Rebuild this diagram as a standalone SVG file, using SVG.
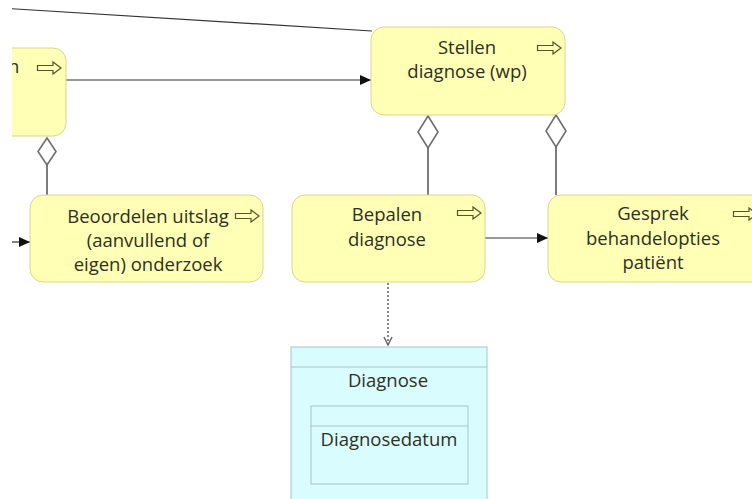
<svg xmlns="http://www.w3.org/2000/svg" width="752" height="499" viewBox="0 0 752 499">
  <defs>
    <style>
      .proc { fill: #ffffb5; stroke: #d8d88c; stroke-width: 1; }
      .data { fill: #d9fdff; stroke: #a8c4c6; stroke-width: 1; }
      .lbl { font-family: "Open Sans", "Noto Sans", sans-serif; font-size: 18.5px; fill: #2f2f22; text-anchor: middle; }
      .icon { fill: none; stroke: #55552a; stroke-width: 1.2; stroke-linejoin: miter; }
      .flow { fill: none; stroke: #333; stroke-width: 1.2; }
      .comp { fill: none; stroke: #7c7c7c; stroke-width: 2; }
      .diam { fill: #fff; stroke: #6e6e6e; stroke-width: 1.6; }
      .acc { fill: none; stroke: #6a6a6a; stroke-width: 1.6; stroke-dasharray: 2 2; }
    </style>
    <clipPath id="view">
      <rect x="12" y="0" width="740" height="499"/>
    </clipPath>
    <marker id="tri" viewBox="0 0 10 10" refX="10" refY="5" markerWidth="15" markerHeight="11" markerUnits="userSpaceOnUse" orient="auto">
      <path d="M0,0.5 L10,5 L0,9.5 Z" fill="#111"/>
    </marker>
    <marker id="vee" viewBox="0 0 10 10" refX="9" refY="5" markerWidth="10" markerHeight="10" markerUnits="userSpaceOnUse" orient="auto">
      <path d="M1,1 L9,5 L1,9" fill="none" stroke="#666" stroke-width="1.5"/>
    </marker>
    <!-- process arrow icon, origin at top-left -->
    <path id="procIcon" class="icon" d="M0.5,3.5 H16 V0 L24,6 L16,12 V8.5 H0.5 Z"/>
  </defs>

  <g clip-path="url(#view)">
    <!-- connectors -->
    <g id="connectors">
      <line class="flow" x1="0" y1="8" x2="372" y2="31"/>
      <line class="flow" x1="66" y1="80" x2="371" y2="80" marker-end="url(#tri)"/>
      <line class="flow" x1="0" y1="242" x2="30" y2="242" marker-end="url(#tri)"/>
      <line class="flow" x1="485" y1="238" x2="548" y2="238" marker-end="url(#tri)"/>
      <!-- compositions -->
      <line class="comp" x1="47" y1="165" x2="47" y2="195"/>
      <path class="diam" d="M47,138 L56,151.5 L47,165 L38,151.5 Z"/>
      <line class="comp" x1="428" y1="148" x2="428" y2="195"/>
      <path class="diam" d="M428,116 L438,132 L428,148 L418,132 Z"/>
      <line class="comp" x1="556" y1="147" x2="556" y2="195"/>
      <path class="diam" d="M556,115 L566,131 L556,147 L546,131 Z"/>
      <!-- access -->
      <line class="acc" x1="388" y1="283" x2="388" y2="345" marker-end="url(#vee)"/>
    </g>

    <!-- left process (partly outside view) -->
    <g id="node-left">
      <rect class="proc" x="-30" y="48" width="96" height="88" rx="13"/>
      <text class="lbl" x="8" y="73" style="text-anchor:start">n</text>
      <use href="#procIcon" x="37" y="62"/>
    </g>

    <g id="node-stellen">
      <rect class="proc" x="371" y="27" width="194" height="88" rx="13"/>
      <text class="lbl" x="467" y="54">Stellen</text>
      <text class="lbl" x="467" y="78">diagnose (wp)</text>
      <use href="#procIcon" x="537" y="42"/>
    </g>

    <g id="node-beoordelen">
      <rect class="proc" x="30" y="195" width="233" height="87" rx="13"/>
      <text class="lbl" x="148" y="223">Beoordelen uitslag</text>
      <text class="lbl" x="148" y="247">(aanvullend of</text>
      <text class="lbl" x="148" y="271">eigen) onderzoek</text>
      <use href="#procIcon" x="235" y="210"/>
    </g>

    <g id="node-bepalen">
      <rect class="proc" x="292" y="195" width="193" height="87" rx="13"/>
      <text class="lbl" x="387" y="221">Bepalen</text>
      <text class="lbl" x="387" y="246">diagnose</text>
      <use href="#procIcon" x="457" y="207"/>
    </g>

    <g id="node-gesprek">
      <rect class="proc" x="548" y="195" width="230" height="87" rx="13"/>
      <text class="lbl" x="653" y="220">Gesprek</text>
      <text class="lbl" x="653" y="245">behandelopties</text>
      <text class="lbl" x="653" y="269">patiënt</text>
      <use href="#procIcon" x="733" y="208"/>
    </g>

    <g id="node-diagnose">
      <rect class="data" x="291" y="347" width="196" height="160"/>
      <line class="data" x1="291" y1="367" x2="487" y2="367"/>
      <text class="lbl" x="388" y="387">Diagnose</text>
      <rect class="data" x="311" y="406" width="157" height="78"/>
      <line class="data" x1="311" y1="426" x2="468" y2="426"/>
      <text class="lbl" x="389" y="446">Diagnosedatum</text>
    </g>
  </g>
</svg>
